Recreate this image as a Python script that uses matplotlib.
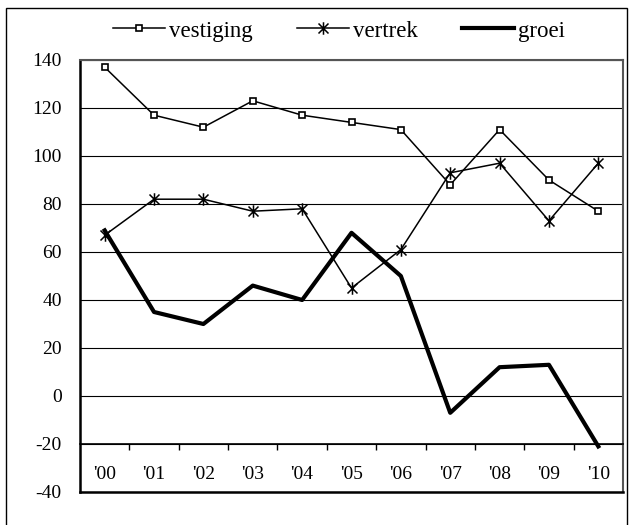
import matplotlib
matplotlib.use('Agg')
import matplotlib.pyplot as plt
from matplotlib.path import Path
from matplotlib.patches import Rectangle
from matplotlib.lines import Line2D

# ---- data ----
years = ["'00", "'01", "'02", "'03", "'04", "'05", "'06", "'07", "'08", "'09", "'10"]
vestiging = [137, 117, 112, 123, 117, 114, 111, 88, 111, 90, 77]
vertrek = [67, 82, 82, 77, 78, 45, 61, 93, 97, 73, 97]
groei = [69, 35, 30, 46, 40, 68, 50, -7, 12, 13, -21]
y_ticks = [-40, -20, 0, 20, 40, 60, 80, 100, 120, 140]

plt.rcParams['font.family'] = ['Liberation Serif', 'DejaVu Serif']
plt.rcParams['axes.unicode_minus'] = False

W, H = 629, 525
fig = plt.figure(figsize=(W / 100, H / 100), dpi=100)
ax = fig.add_axes([80 / W, 1 - 492 / H, 543 / W, 432 / H])

x = list(range(len(years)))

star = Path([(-1, -1), (1, 1), (-1, 1), (1, -1), (0, -1.25), (0, 1.25)],
            [Path.MOVETO, Path.LINETO, Path.MOVETO, Path.LINETO, Path.MOVETO, Path.LINETO])

l1, = ax.plot(x, vestiging, color='k', lw=1.1, marker='s', ms=4.5, mfc='white',
              mec='k', mew=1.2, label='vestiging', zorder=5)
l2, = ax.plot(x, vertrek, color='k', lw=1.1, marker=star, ms=9, mec='k', mew=1.1,
              label='vertrek', zorder=4)
l3, = ax.plot(x, groei, color='k', lw=3, label='groei', zorder=3)

ax.set_xlim(-0.5, len(years) - 0.5)
ax.set_ylim(y_ticks[0], y_ticks[-1])
ax.set_yticks(y_ticks)
ax.yaxis.grid(True, color='k', lw=0.8)
ax.set_axisbelow(True)
ax.tick_params(axis='y', length=0, pad=13.2, labelsize=14)

# category axis crossing at -20
ax.spines['bottom'].set_position(('data', -20))
ax.spines['bottom'].set_color('k')
ax.spines['bottom'].set_linewidth(1.2)
ax.set_xticks([i + 0.5 for i in range(len(years) - 1)])
ax.set_xticklabels([])
ax.set_xticks(x, minor=True)
ax.set_xticklabels(years, minor=True)
ax.tick_params(axis='x', which='major', direction='out', length=4.3, width=1, color='k')
ax.tick_params(axis='x', which='minor', length=0, pad=15.5, labelsize=14)

# plot area frame
ax.axhline(y_ticks[0], color='k', lw=1.8, clip_on=False, zorder=6)
ax.spines['left'].set_color('k')
ax.spines['left'].set_linewidth(1.8)
ax.spines['top'].set_color('#555555')
ax.spines['top'].set_linewidth(1.5)
ax.spines['right'].set_color('#555555')
ax.spines['right'].set_linewidth(1.5)

fig.legend(handles=[l1, l2, l3], labels=['vestiging', 'vertrek', 'groei'],
           loc='center', bbox_to_anchor=(339 / W, 1 - 31 / H), ncol=3,
           frameon=False, fontsize=16.5, handlelength=2.27, handletextpad=0.2,
           columnspacing=1.9, numpoints=1, borderpad=0, borderaxespad=0)

# outer chart border
fig.patches.append(Rectangle((6 / W, -0.05), (627 - 6) / W, (1 - 8 / H) + 0.05,
                             transform=fig.transFigure, fill=False, ec='k', lw=1))

fig.savefig('out.png', dpi=100)
